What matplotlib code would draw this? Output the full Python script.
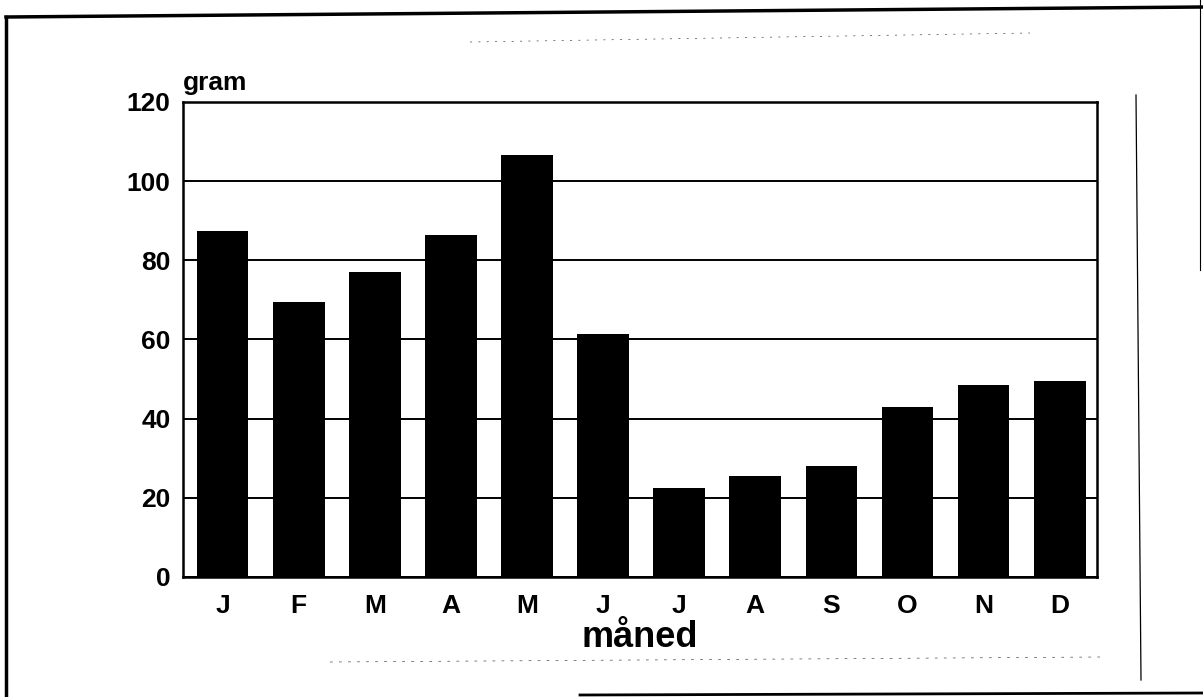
import matplotlib.pyplot as plt
from matplotlib.lines import Line2D

# ---------------- data ---------------- #
months = ['J', 'F', 'M', 'A', 'M', 'J', 'J', 'A', 'S', 'O', 'N', 'D']
grams  = [87.5, 69.5, 77, 86.5, 106.5, 61.5, 22.5, 25.5, 28, 43, 48.5, 49.5]
yticks = [0, 20, 40, 60, 80, 100, 120]

plt.rcParams['font.family'] = ['Liberation Sans', 'DejaVu Sans']

fig = plt.figure(figsize=(12.03, 6.97), dpi=100)
ax = fig.add_axes([0.1521, 0.1722, 0.7598, 0.6815])

x = list(range(len(months)))
ax.bar(x, grams, width=0.68, color='black', zorder=3)

ax.set_xlim(-0.52, 11.49)
ax.set_ylim(0, 120)
ax.set_yticks(yticks)
ax.set_xticks(x)
ax.set_xticklabels(months)
ax.yaxis.grid(True, color='black', lw=1.4, zorder=1)
ax.set_axisbelow(True)
ax.tick_params(length=0, labelsize=19)
ax.tick_params(axis='y', pad=9)
ax.tick_params(axis='x', pad=12)
for lab in ax.get_xticklabels() + ax.get_yticklabels():
    lab.set_fontweight('bold')
for s in ax.spines.values():
    s.set_linewidth(1.8)
    s.set_color('black')

ax.text(0.0, 1.015, 'gram', transform=ax.transAxes, fontsize=19,
        fontweight='bold', ha='left', va='bottom')
ax.set_xlabel('måned', fontsize=26, fontweight='bold', labelpad=2)

# scanned page frame
W, H = 1203, 697
def pline(xs, ys, lw, **kw):
    fig.add_artist(Line2D([v / W for v in xs], [1 - v / H for v in ys],
                          transform=fig.transFigure, color='black', lw=lw, **kw))

pline([6, 6], [17, 697], 2.5)
pline([6, 1203], [17, 7], 2.5)
pline([580, 1203], [695, 693], 2.0)
pline([1136, 1141], [95, 680], 0.9)
pline([1200, 1200], [0, 270], 0.8)
pline([470, 1030], [42, 33], 0.5, ls=(0, (3, 9)), alpha=0.7)
pline([330, 1100], [662, 657], 0.5, ls=(0, (4, 9)), alpha=0.7)

fig.savefig('out.png', dpi=100)
